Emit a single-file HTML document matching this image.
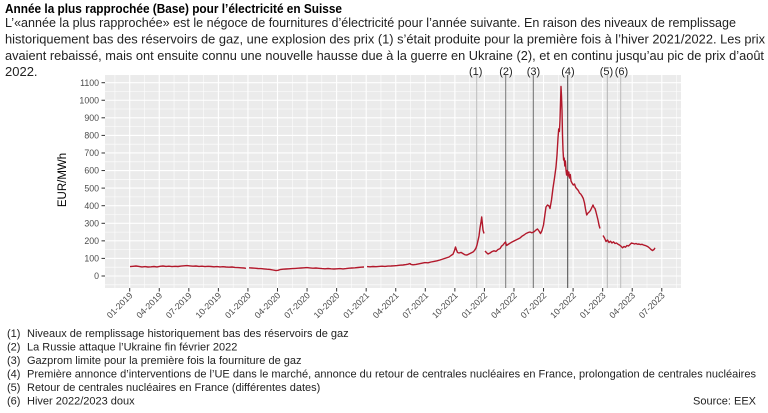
<!DOCTYPE html>
<html><head><meta charset="utf-8">
<style>
html,body{margin:0;padding:0;background:#fff;}
svg{display:block;font-family:"Liberation Sans",Arial,sans-serif;}
</style></head>
<body>
<svg width="768" height="413" viewBox="0 0 768 413" xmlns="http://www.w3.org/2000/svg">
<rect width="768" height="413" fill="#fff"/>
<!-- title and subtitle -->
<text x="5" y="13" font-size="13" font-weight="bold" fill="#000" textLength="337" lengthAdjust="spacingAndGlyphs">Année la plus rapprochée (Base) pour l’électricité en Suisse</text>
<g font-size="13" fill="#222">
<text x="5" y="27" textLength="731" lengthAdjust="spacingAndGlyphs">L’«année la plus rapprochée» est le négoce de fournitures d’électricité pour l’année suivante. En raison des niveaux de remplissage</text>
<text x="5" y="43.5" textLength="760" lengthAdjust="spacingAndGlyphs">historiquement bas des réservoirs de gaz, une explosion des prix (1) s’était produite pour la première fois à l’hiver 2021/2022. Les prix</text>
<text x="5" y="60" textLength="759" lengthAdjust="spacingAndGlyphs">avaient rebaissé, mais ont ensuite connu une nouvelle hausse due à la guerre en Ukraine (2), et en continu jusqu’au pic de prix d’août</text>
<text x="5" y="76">2022.</text>
</g>

<!-- panel -->
<rect x="105" y="75" width="576" height="213" fill="#ebebeb"/>
<g stroke="#fff" stroke-width="0.55">
<line x1="105" x2="681" y1="284.8" y2="284.8"/><line x1="105" x2="681" y1="267.2" y2="267.2"/><line x1="105" x2="681" y1="249.6" y2="249.6"/><line x1="105" x2="681" y1="232.1" y2="232.1"/><line x1="105" x2="681" y1="214.5" y2="214.5"/><line x1="105" x2="681" y1="196.9" y2="196.9"/><line x1="105" x2="681" y1="179.3" y2="179.3"/><line x1="105" x2="681" y1="161.8" y2="161.8"/><line x1="105" x2="681" y1="144.2" y2="144.2"/><line x1="105" x2="681" y1="126.6" y2="126.6"/><line x1="105" x2="681" y1="109.0" y2="109.0"/><line x1="105" x2="681" y1="91.5" y2="91.5"/>
<line y1="75" y2="288" x1="114.92" x2="114.92"/><line y1="75" y2="288" x1="144.48" x2="144.48"/><line y1="75" y2="288" x1="174.04" x2="174.04"/><line y1="75" y2="288" x1="203.6" x2="203.6"/><line y1="75" y2="288" x1="233.16" x2="233.16"/><line y1="75" y2="288" x1="262.72" x2="262.72"/><line y1="75" y2="288" x1="292.28" x2="292.28"/><line y1="75" y2="288" x1="321.84" x2="321.84"/><line y1="75" y2="288" x1="351.4" x2="351.4"/><line y1="75" y2="288" x1="380.96" x2="380.96"/><line y1="75" y2="288" x1="410.52" x2="410.52"/><line y1="75" y2="288" x1="440.08" x2="440.08"/><line y1="75" y2="288" x1="469.64" x2="469.64"/><line y1="75" y2="288" x1="499.2" x2="499.2"/><line y1="75" y2="288" x1="528.76" x2="528.76"/><line y1="75" y2="288" x1="558.32" x2="558.32"/><line y1="75" y2="288" x1="587.88" x2="587.88"/><line y1="75" y2="288" x1="617.44" x2="617.44"/><line y1="75" y2="288" x1="647" x2="647"/><line y1="75" y2="288" x1="676.56" x2="676.56"/>
</g>
<g stroke="#fff" stroke-width="1.1">
<line x1="105" x2="681" y1="276" y2="276"/><line x1="105" x2="681" y1="258.4" y2="258.4"/><line x1="105" x2="681" y1="240.85" y2="240.85"/><line x1="105" x2="681" y1="223.3" y2="223.3"/><line x1="105" x2="681" y1="205.7" y2="205.7"/><line x1="105" x2="681" y1="188.1" y2="188.1"/><line x1="105" x2="681" y1="170.55" y2="170.55"/><line x1="105" x2="681" y1="152.98" y2="152.98"/><line x1="105" x2="681" y1="135.4" y2="135.4"/><line x1="105" x2="681" y1="117.8" y2="117.8"/><line x1="105" x2="681" y1="100.25" y2="100.25"/><line x1="105" x2="681" y1="82.7" y2="82.7"/>
<line y1="75" y2="288" x1="129.7" x2="129.7"/><line y1="75" y2="288" x1="159.26" x2="159.26"/><line y1="75" y2="288" x1="188.82" x2="188.82"/><line y1="75" y2="288" x1="218.38" x2="218.38"/><line y1="75" y2="288" x1="247.94" x2="247.94"/><line y1="75" y2="288" x1="277.5" x2="277.5"/><line y1="75" y2="288" x1="307.06" x2="307.06"/><line y1="75" y2="288" x1="336.62" x2="336.62"/><line y1="75" y2="288" x1="366.18" x2="366.18"/><line y1="75" y2="288" x1="395.74" x2="395.74"/><line y1="75" y2="288" x1="425.3" x2="425.3"/><line y1="75" y2="288" x1="454.86" x2="454.86"/><line y1="75" y2="288" x1="484.42" x2="484.42"/><line y1="75" y2="288" x1="513.98" x2="513.98"/><line y1="75" y2="288" x1="543.54" x2="543.54"/><line y1="75" y2="288" x1="573.1" x2="573.1"/><line y1="75" y2="288" x1="602.66" x2="602.66"/><line y1="75" y2="288" x1="632.22" x2="632.22"/><line y1="75" y2="288" x1="661.78" x2="661.78"/>
</g>

<!-- event lines -->
<g stroke-width="1">
<line x1="476.7" x2="476.7" y1="75" y2="288" stroke="#bcbcbc"/>
<line x1="505.7" x2="505.7" y1="75" y2="288" stroke="#7a7a7a"/>
<line x1="533.3" x2="533.3" y1="75" y2="288" stroke="#6e6e6e"/>
<line x1="567.7" x2="567.7" y1="75" y2="288" stroke="#4a4a4a"/>
<line x1="607.3" x2="607.3" y1="75" y2="288" stroke="#b4b4b4"/>
<line x1="620.7" x2="620.7" y1="75" y2="288" stroke="#bcbcbc"/>
</g>
<g font-size="11" fill="#222" text-anchor="middle">
<text x="475.7" y="75">(1)</text>
<text x="506" y="75">(2)</text>
<text x="533.5" y="75">(3)</text>
<text x="568" y="75">(4)</text>
<text x="606.5" y="75">(5)</text>
<text x="621.5" y="75">(6)</text>
</g>

<!-- data -->
<g fill="none" stroke="#b2182b" stroke-width="1.4" stroke-linejoin="round">
<polyline points="130,266.6 133,266.3 136,266.0 139,266.4 142,266.9 145,266.6 148,267.0 151,266.8 154,266.5 157,266.9 160,266.3 163,266.0 166,266.4 169,266.2 172,266.6 175,266.3 178,266.5 181,266.1 184,265.8 187,265.6 190,265.9 193,266.2 196,266.0 199,266.4 202,266.2 205,266.6 208,266.3 211,266.5 214,266.8 217,266.6 220,266.9 223,266.7 226,267.0 229,267.2 232,267.0 235,267.4 238,267.6 241,267.8 244,268.0 246,268.3"/>
<polyline points="249,267.8 252,268.0 255,268.2 258,268.5 261,268.6 264,268.9 267,269.2 270,269.4 273,270.0 276,270.6 278,270.3 280,269.6 283,269.2 286,269.0 289,268.8 292,268.6 295,268.4 298,268.2 301,268.0 304,267.8 307,267.6 310,267.9 313,268.2 316,268.0 319,268.3 322,268.6 325,268.8 328,268.5 331,268.8 334,269.0 337,268.8 340,268.6 343,268.9 346,268.6 349,268.2 352,268.0 355,267.8 358,267.5 361,267.2 364,267.0"/>
<polyline points="367,266.6 370,266.8 373,266.5 376,266.7 379,266.4 382,266.2 385,266.4 388,266.1 391,266.0 394,265.8 397,265.6 400,265.2 403,265.0 406,264.6 408,264.2 410,263.6 411,264.4 413,264.8 416,264.4 419,263.8 422,263.2 425,262.6 428,262.8 431,262.0 434,261.4 437,260.8 440,260.0 443,259.0 446,258.0 449,257.0 451,255.5 453,254.2 454.5,250.5 455.5,247.0 456.5,250.0 457.5,252.5 459,253.0 461,252.4 463,253.6 465,254.8 467,255.0 469,254.0 471,253.0 473,252.0 474.5,250.5 476,248.0 477,245.0 478,240.5 479,236.0 480,228.0 481,222.0 481.7,217.0 482.4,224.0 483,230.0 484,233.5"/>
<polyline points="485,251.0 486.5,252.6 488,254.0 490,253.0 492,251.6 494,250.8 496,251.4 498,249.5 500,248.6 501.5,246.2 503,245.0 504.5,243.0 505.5,242.0 506.5,245.5 508,244.5 510,243.2 512,242.0 514,241.0 516,240.0 518,239.0 520,238.0 522,236.2 524,235.0 526,233.5 528,232.6 530,232.0 532,232.8 534,231.8 536,230.0 537.5,229.0 539,231.0 540.5,233.5 542,230.5 543.5,225.0 545,214.0 546,207.0 547.5,205.0 549,206.0 550,208.5 551.5,200.0 553,188.0 554.5,178.0 556,167.0 557,155.0 558,138.0 558.7,129.0 559.4,131.5 560,120.0 560.6,100.0 561,86.5 561.5,96.0 562,110.0 562.5,135.0 563,150.0 563.6,160.0 564.2,158.0 564.8,166.0 565.4,161.0 566,170.0 566.6,175.0 567.3,170.5 568,176.0 568.8,172.0 569.5,178.0 570.3,174.5 571,181.0 572,183.0 573.3,185.0 574.5,184.0 575.7,187.5 577,189.0 578.3,190.5 579.5,193.0 580.7,194.0 582,196.0 583.3,198.5 584.5,203.0 585.5,209.0 586.7,215.0 588,213.0 589.2,212.0 590.4,210.5 591.6,208.0 593,205.0 594,207.5 595,208.5 596,212.0 597,216.0 598,220.0 599,225.0 600,228.5"/>
<polyline points="603,235.5 604.5,238.0 606,241.5 607.5,240.0 609,242.5 610.5,241.2 612,243.0 613.5,241.8 615,243.5 616.5,243.0 618,244.2 619.5,245.0 621,246.2 622.5,247.8 624,246.5 625.5,247.2 627,245.5 628.5,246.0 630,244.5 631.5,243.0 633,243.4 634.5,244.0 636,243.5 637.5,244.2 639,244.0 640.5,244.6 642,244.3 643.5,245.0 645,245.4 646.5,246.0 648,246.8 649.5,248.0 651,249.5 652.5,250.5 654,249.5 655,247.8"/>
</g>

<!-- y axis -->
<g stroke="#333" stroke-width="1">
<line x1="101.5" x2="105" y1="276" y2="276"/><line x1="101.5" x2="105" y1="258.4" y2="258.4"/><line x1="101.5" x2="105" y1="240.85" y2="240.85"/><line x1="101.5" x2="105" y1="223.3" y2="223.3"/><line x1="101.5" x2="105" y1="205.7" y2="205.7"/><line x1="101.5" x2="105" y1="188.1" y2="188.1"/><line x1="101.5" x2="105" y1="170.55" y2="170.55"/><line x1="101.5" x2="105" y1="152.98" y2="152.98"/><line x1="101.5" x2="105" y1="135.4" y2="135.4"/><line x1="101.5" x2="105" y1="117.8" y2="117.8"/><line x1="101.5" x2="105" y1="100.25" y2="100.25"/><line x1="101.5" x2="105" y1="82.7" y2="82.7"/>
</g>
<g font-size="8.8" fill="#4d4d4d" text-anchor="end">
<text x="99" y="279.2">0</text><text x="99" y="261.6">100</text><text x="99" y="244">200</text><text x="99" y="226.5">300</text><text x="99" y="208.9">400</text><text x="99" y="191.3">500</text><text x="99" y="173.7">600</text><text x="99" y="156.2">700</text><text x="99" y="138.6">800</text><text x="99" y="121">900</text><text x="99" y="103.4">1000</text><text x="99" y="85.9">1100</text>
</g>
<text transform="translate(66,180) rotate(-90)" font-size="11.5" fill="#000" text-anchor="middle">EUR/MWh</text>

<!-- x axis -->
<g stroke="#333" stroke-width="1">
<line y1="288" y2="291.5" x1="129.7" x2="129.7"/><line y1="288" y2="291.5" x1="159.26" x2="159.26"/><line y1="288" y2="291.5" x1="188.82" x2="188.82"/><line y1="288" y2="291.5" x1="218.38" x2="218.38"/><line y1="288" y2="291.5" x1="247.94" x2="247.94"/><line y1="288" y2="291.5" x1="277.5" x2="277.5"/><line y1="288" y2="291.5" x1="307.06" x2="307.06"/><line y1="288" y2="291.5" x1="336.62" x2="336.62"/><line y1="288" y2="291.5" x1="366.18" x2="366.18"/><line y1="288" y2="291.5" x1="395.74" x2="395.74"/><line y1="288" y2="291.5" x1="425.3" x2="425.3"/><line y1="288" y2="291.5" x1="454.86" x2="454.86"/><line y1="288" y2="291.5" x1="484.42" x2="484.42"/><line y1="288" y2="291.5" x1="513.98" x2="513.98"/><line y1="288" y2="291.5" x1="543.54" x2="543.54"/><line y1="288" y2="291.5" x1="573.1" x2="573.1"/><line y1="288" y2="291.5" x1="602.66" x2="602.66"/><line y1="288" y2="291.5" x1="632.22" x2="632.22"/><line y1="288" y2="291.5" x1="661.78" x2="661.78"/>
</g>
<g font-size="8.8" fill="#4d4d4d" text-anchor="end">
<text transform="translate(133.2,296) rotate(-45)">01-2019</text>
<text transform="translate(162.8,296) rotate(-45)">04-2019</text>
<text transform="translate(192.3,296) rotate(-45)">07-2019</text>
<text transform="translate(221.9,296) rotate(-45)">10-2019</text>
<text transform="translate(251.4,296) rotate(-45)">01-2020</text>
<text transform="translate(281,296) rotate(-45)">04-2020</text>
<text transform="translate(310.6,296) rotate(-45)">07-2020</text>
<text transform="translate(340.1,296) rotate(-45)">10-2020</text>
<text transform="translate(369.7,296) rotate(-45)">01-2021</text>
<text transform="translate(399.2,296) rotate(-45)">04-2021</text>
<text transform="translate(428.8,296) rotate(-45)">07-2021</text>
<text transform="translate(458.4,296) rotate(-45)">10-2021</text>
<text transform="translate(487.9,296) rotate(-45)">01-2022</text>
<text transform="translate(517.5,296) rotate(-45)">04-2022</text>
<text transform="translate(547,296) rotate(-45)">07-2022</text>
<text transform="translate(576.6,296) rotate(-45)">10-2022</text>
<text transform="translate(606.2,296) rotate(-45)">01-2023</text>
<text transform="translate(635.7,296) rotate(-45)">04-2023</text>
<text transform="translate(665.3,296) rotate(-45)">07-2023</text>
</g>

<!-- footnotes -->
<g font-size="11" fill="#222">
<text x="7" y="337">(1)</text><text x="27" y="337">Niveaux de remplissage historiquement bas des réservoirs de gaz</text>
<text x="7" y="350.5">(2)</text><text x="27" y="350.5">La Russie attaque l’Ukraine fin février 2022</text>
<text x="7" y="364">(3)</text><text x="27" y="364">Gazprom limite pour la première fois la fourniture de gaz</text>
<text x="7" y="377.5">(4)</text><text x="27" y="377.5" textLength="729" lengthAdjust="spacingAndGlyphs">Première annonce d’interventions de l’UE dans le marché, annonce du retour de centrales nucléaires en France, prolongation de centrales nucléaires</text>
<text x="7" y="391">(5)</text><text x="27" y="391">Retour de centrales nucléaires en France (différentes dates)</text>
<text x="7" y="404.5">(6)</text><text x="27" y="404.5">Hiver 2022/2023 doux</text>
<text x="756" y="404.5" text-anchor="end">Source: EEX</text>
</g>
</svg>
</body></html>
